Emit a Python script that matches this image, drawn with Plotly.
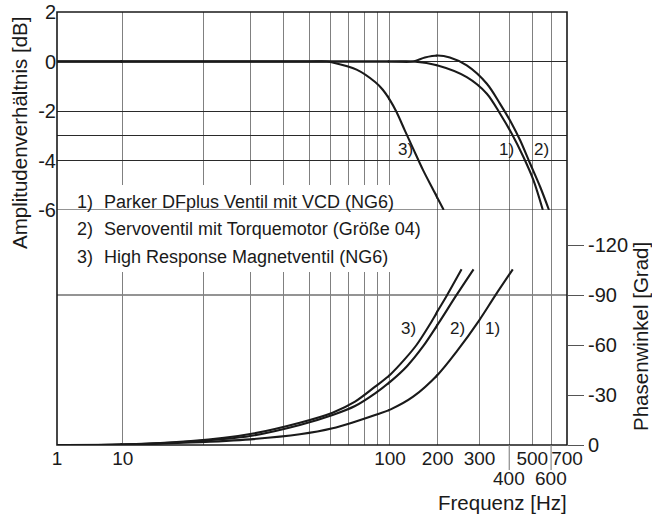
import math
import plotly.graph_objects as go

# ---------------- data ----------------
# Amplitude ratio [dB] vs frequency [Hz]
freq_amp_parker = [1, 100, 140, 200, 265, 322, 366, 410, 459, 506, 554]
amp_parker = [0, 0, 0, -0.16, -0.63, -1.3, -2.11, -2.92, -3.86, -4.8, -6.0]

freq_amp_servo = [1, 100, 140, 166, 200, 225, 265, 322, 366, 410, 445, 490, 540, 588]
amp_servo = [0, 0, 0, 0.16, 0.24, 0.16, -0.16, -0.9, -1.71, -2.51, -3.19, -4.13, -5.07, -6.0]

freq_amp_hr = [1, 50, 58, 61, 75, 88, 94, 100, 110, 124, 140, 162, 188, 212]
amp_hr = [0, 0, 0, -0.04, -0.33, -0.83, -1.14, -1.56, -2.04, -2.78, -3.52, -4.4, -5.2, -6.0]

# Phase angle [deg] vs frequency [Hz]
freq_ph_parker = [1, 10, 18, 30, 46, 61, 74, 88, 101, 140, 201, 241, 299, 349, 414]
ph_parker = [0, -0.2, -1.5, -3.4, -6.4, -10, -14, -18, -21.4, -29, -42.5, -56.3, -74.8, -89.6, -105.4]

freq_ph_servo = [1, 10, 18, 30, 46, 61, 74, 88, 101, 128, 162, 201, 239, 283]
ph_servo = [0, -0.3, -2.1, -5.4, -12, -18, -23.4, -31, -38.2, -47.3, -59.3, -72.8, -89.6, -105.4]

freq_ph_hr = [1, 10, 18, 30, 46, 61, 74, 88, 101, 124, 147, 179, 201, 218, 252]
ph_hr = [0, -0.3, -2.4, -6.6, -13.4, -19.4, -26, -35, -42.5, -51.5, -60, -72.6, -81, -89.4, -105.4]

# axis ticks / labels
grid_freqs = [1, 10, 20, 30, 40, 50, 60, 70, 80, 90, 100, 200, 300, 400, 500, 600, 700]
freq_tick_labels = {1: "1", 10: "10", 100: "100", 200: "200", 300: "300",
                    500: "500", 700: "700"}
freq_low_labels = [400, 600]          # second label row, with long tick
amp_ticks = [2, 0, -2, -3, -4, -6]
amp_tick_text = ["2", "0", "-2", "", "-4", "-6"]
phase_ticks = [-120, -90, -60, -30, 0]
phase_tick_text = ["-120", "-90", "-60", "-30", "0"]

legend_numbers = ["1)", "2)", "3)"]
legend_texts = ["Parker DFplus Ventil mit VCD (NG6)",
                "Servoventil mit Torquemotor (Größe 04)",
                "High Response Magnetventil (NG6)"]

# ---------------- layout helpers ----------------
FONT = "Liberation Sans, Arial, Helvetica, sans-serif"
INK = "#1a1a1a"
VGRID = "#808080"
HGRID = "#2a2a2a"

# The frequency axis of the original is drawn piecewise logarithmic:
# one log axis per segment, placed side by side.
seg_edges = [1, 10, 100, 200, 700]
seg_dom = [0.0, 0.1288, 0.6529, 0.7465, 1.0]
overlap = 0.004
split = 0.5427  # boundary between amplitude (top) and phase (bottom) panels
nseg = len(seg_edges) - 1
L = [math.log10(e) for e in seg_edges]


def seg_index(f):
    for k in range(nseg):
        if f <= seg_edges[k + 1]:
            return k
    return nseg - 1


def to_segment_axis(freqs, i):
    """Express frequencies in segment i's log coordinates so that points
    outside that segment (which are clipped anyway) keep their true place
    on the piecewise axis; this keeps the spline continuous across segments."""
    out = []
    for f in freqs:
        j = seg_index(f)
        t = seg_dom[j] + (math.log10(f) - L[j]) / (L[j + 1] - L[j]) * (seg_dom[j + 1] - seg_dom[j])
        lf = L[i] + (t - seg_dom[i]) * (L[i + 1] - L[i]) / (seg_dom[i + 1] - seg_dom[i])
        out.append(10 ** lf)
    return out


fig = go.Figure()
series_amp = [(freq_amp_parker, amp_parker), (freq_amp_servo, amp_servo), (freq_amp_hr, amp_hr)]
series_ph = [(freq_ph_parker, ph_parker), (freq_ph_servo, ph_servo), (freq_ph_hr, ph_hr)]
line_style = dict(color=INK, width=2.1, shape="spline", smoothing=0.9)

for i in range(nseg):
    xname = "x" if i == 0 else f"x{i+1}"
    for fx, vy in series_amp:
        fig.add_trace(go.Scatter(x=to_segment_axis(fx, i), y=vy, xaxis=xname, yaxis="y",
                                 mode="lines", line=line_style, showlegend=False,
                                 hoverinfo="skip"))
    for fx, vy in series_ph:
        fig.add_trace(go.Scatter(x=to_segment_axis(fx, i), y=vy, xaxis=xname, yaxis="y2",
                                 mode="lines", line=line_style, showlegend=False,
                                 hoverinfo="skip"))

# x axes (segments)
seg_of = {}
for i in range(nseg):
    d0, d1 = seg_dom[i], seg_dom[i + 1]
    llo, lhi = L[i], L[i + 1]
    if i > 0:
        llo -= overlap * (lhi - llo) / (d1 - d0)
        d0 -= overlap
    vals = []
    for v in grid_freqs:
        j = max(k for k in range(nseg) if seg_edges[k] <= v)
        if j == i:
            vals.append(v)
            seg_of[v] = "x" if i == 0 else f"x{i+1}"
    texts = [freq_tick_labels.get(v, "") for v in vals]
    key = "xaxis" if i == 0 else f"xaxis{i+1}"
    fig.layout[key] = dict(
        type="log", range=[llo, lhi], domain=[d0, d1], anchor="y2",
        tickmode="array", tickvals=vals, ticktext=texts, tickangle=0,
        showgrid=True, gridcolor=VGRID, gridwidth=1.1, automargin=False,
        zeroline=False, showline=False, ticks="",
        tickfont=dict(family=FONT, size=19, color=INK),
    )

fig.update_layout(
    width=652, height=514,
    margin=dict(l=57, r=85, t=12, b=69, autoexpand=False),
    paper_bgcolor="white", plot_bgcolor="rgba(0,0,0,0)",
    font=dict(family=FONT, color=INK),
    showlegend=False,
    yaxis=dict(domain=[split, 1], range=[-6, 2], anchor="x", side="left",
               tickmode="array", tickvals=amp_ticks, ticktext=amp_tick_text,
               showgrid=True, gridcolor=HGRID, gridwidth=1.1, zeroline=False,
               showline=False, ticks="", automargin=False,
               tickfont=dict(family=FONT, size=20, color=INK)),
    yaxis2=dict(domain=[0, split], range=[0, -141], anchor="x4", side="right",
                tickmode="array", tickvals=phase_ticks, ticktext=phase_tick_text,
                showgrid=False, zeroline=False, showline=False, automargin=False,
                ticks="outside", ticklen=16, tickwidth=1, tickcolor="#555",
                tickfont=dict(family=FONT, size=20, color=INK)),
)

shapes = [
    dict(type="line", xref="paper", yref="y2", x0=0, x1=1, y0=-90, y1=-90,
         line=dict(color=HGRID, width=1.1), layer="below"),
    dict(type="rect", xref="paper", yref="paper", x0=0.003, x1=0.663, y0=0.3995, y1=0.6005,
         fillcolor="white", line=dict(width=0), layer="above"),
    dict(type="line", xref="paper", yref="y", x0=0, x1=1, y0=-6, y1=-6,
         line=dict(color=HGRID, width=1.1), layer="above"),
    dict(type="rect", xref="paper", yref="paper", x0=0, x1=1, y0=0, y1=1,
         line=dict(color=INK, width=1.6), layer="above"),
]
for v in freq_low_labels:
    shapes.append(dict(type="line", xref=seg_of[v], yref="paper", x0=v, x1=v, y0=0, y1=-0.058,
                       line=dict(color=VGRID, width=1.1), layer="above"))
fig.update_layout(shapes=shapes)

ann = []
for v in freq_low_labels:
    ann.append(dict(xref=seg_of[v], yref="paper", x=math.log10(v), y=-0.0775, text=str(v),
                    showarrow=False, xanchor="center", yanchor="middle",
                    font=dict(family=FONT, size=19, color=INK)))

leg_y = [0.5619, 0.4982, 0.4335]
for num, txt, yy in zip(legend_numbers, legend_texts, leg_y):
    ann.append(dict(xref="paper", yref="paper", x=0.0353, y=yy, text=num, showarrow=False,
                    xanchor="left", yanchor="middle", font=dict(family=FONT, size=18, color=INK)))
    ann.append(dict(xref="paper", yref="paper", x=0.0876, y=yy, text=txt, showarrow=False,
                    xanchor="left", yanchor="middle", font=dict(family=FONT, size=18, color=INK)))

curve_labels = [("3)", 0.6839, 0.6836), ("1)", 0.8804, 0.6836), ("2)", 0.9496, 0.6836),
                ("3)", 0.6888, 0.2695), ("2)", 0.7853, 0.2700), ("1)", 0.8549, 0.2700)]
for t, xx, yy in curve_labels:
    ann.append(dict(xref="paper", yref="paper", x=xx, y=yy, text=t, showarrow=False,
                    xanchor="center", yanchor="middle", font=dict(family=FONT, size=17, color=INK)))

ann.append(dict(xref="paper", yref="paper", x=-0.0725, y=0.7206, text="Amplitudenverhältnis [dB]",
                textangle=-90, showarrow=False, xanchor="center", yanchor="middle",
                font=dict(family=FONT, size=20.5, color=INK)))
ann.append(dict(xref="paper", yref="paper", x=1.1431, y=0.2517, text="Phasenwinkel [Grad]",
                textangle=-90, showarrow=False, xanchor="center", yanchor="middle",
                font=dict(family=FONT, size=20.5, color=INK)))
ann.append(dict(xref="paper", yref="paper", x=0.8735, y=-0.1339, text="Frequenz [Hz]",
                showarrow=False, xanchor="center", yanchor="middle",
                font=dict(family=FONT, size=20.5, color=INK)))
fig.update_layout(annotations=ann)

fig.write_html("out.html", config={"displayModeBar": False},
               post_script="document.body.style.margin='0';document.body.style.padding='0';")
